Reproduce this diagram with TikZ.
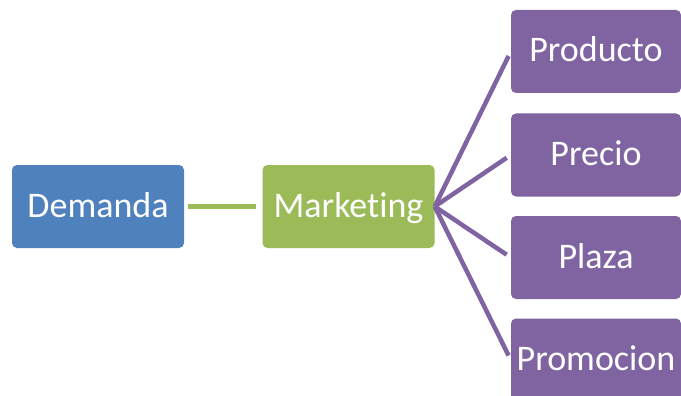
\documentclass[tikz,border=0pt]{standalone}
\usepackage{fontspec}
\setmainfont{Carlito}[Ligatures=NoCommon]
\definecolor{demblue}{HTML}{4F81BD}
\definecolor{mktgreen}{HTML}{9BBB59}
\definecolor{mixpurple}{HTML}{8064A2}

\begin{document}
\begin{tikzpicture}
		[x=1pt,y=-1pt,
		block/.style ={rectangle, text=white, rounded corners=5pt, inner sep=0pt, minimum width=172pt, minimum height=83pt, font=\fontsize{36}{43}\selectfont, text height=27pt, text depth=6pt},
		mixbox/.style ={block, fill=mixpurple, minimum width=170pt},
		link/.style ={draw, line width=4.5pt}]
		\useasboundingbox (0,0) rectangle (681,396);
		\clip (0,0) rectangle (681,396);
		\draw (98,206.5) node[block, fill=demblue] (A) {Demanda};
		\draw (348.5,206.5) node[block, fill=mktgreen] (B) {Marketing};
		\draw (596,51.5) node[mixbox] (C) {Producto};
		\draw (596,155) node[mixbox] (D) {Precio};
		\draw (596,257.5) node[mixbox] (E) {Plaza};
		\draw (596,360) node[mixbox] (F) {Promocion};
		\path[link, mktgreen, shorten <=4pt, shorten >=6pt]
		(A) edge (B);
		\path[link, mixpurple, shorten >=5pt]
		(B.east) edge (C.west)
		(B.east) edge (D.west)
		(B.east) edge (E.west)
		(B.east) edge (F.west);

	\end{tikzpicture}
\end{document}
